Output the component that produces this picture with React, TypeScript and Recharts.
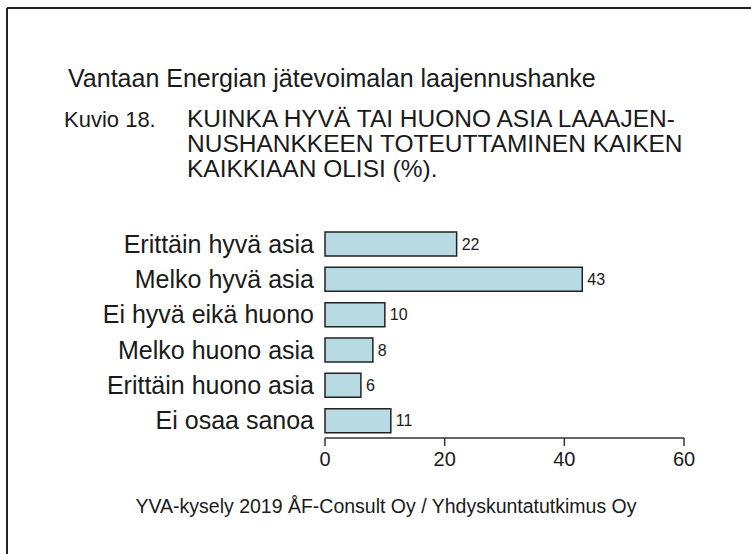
import React from 'react';
import { BarChart, Bar, XAxis, YAxis, LabelList } from 'recharts';

const categories = [
  'Erittäin hyvä asia',
  'Melko hyvä asia',
  'Ei hyvä eikä huono',
  'Melko huono asia',
  'Erittäin huono asia',
  'Ei osaa sanoa',
];
const values = [22, 43, 10, 8, 6, 11];
const xTicks = [0, 20, 40, 60];

const titleText = 'Vantaan Energian jätevoimalan laajennushanke';
const figureLabel = 'Kuvio 18.';
const subtitleLines = [
  'KUINKA HYVÄ TAI HUONO ASIA LAAAJEN-',
  'NUSHANKKEEN TOTEUTTAMINEN KAIKEN',
  'KAIKKIAAN OLISI (%).',
];
const footerText = 'YVA-kysely 2019 ÅF-Consult Oy / Yhdyskuntatutkimus Oy';

const data = categories.map((name, i) => ({ name, value: values[i] }));

const FONT = '"Liberation Sans", Arial, Helvetica, sans-serif';

export default function App() {
  return (
    <div style={{ position: 'absolute', left: 0, top: 0, width: 751, height: 554, background: '#fff', fontFamily: FONT }}>
      <svg width={751} height={554} style={{ position: 'absolute', left: 0, top: 0 }}>
        <line x1={7} y1={8} x2={751} y2={8} stroke="#222" strokeWidth={2} />
        <line x1={7} y1={8} x2={7} y2={554} stroke="#222" strokeWidth={2} />
        <text x={68} y={87} fontSize={25} fill="#1a1a1a" fontFamily={FONT}>{titleText}</text>
        <text x={64} y={127} fontSize={22} fill="#1a1a1a" fontFamily={FONT}>{figureLabel}</text>
        {subtitleLines.map((l, i) => (
          <text key={i} x={187} y={127 + i * 25} fontSize={24.5} fill="#1a1a1a" fontFamily={FONT}>{l}</text>
        ))}
        <text x={386} y={513} fontSize={19.5} fill="#1a1a1a" textAnchor="middle" fontFamily={FONT}>{footerText}</text>
      </svg>
      <div style={{ position: 'absolute', left: 0, top: 0 }}>
        <BarChart
          width={751}
          height={554}
          data={data}
          layout="vertical"
          margin={{ top: 226, right: 67, bottom: 76, left: 0 }}
        >
          <XAxis
            type="number"
            domain={[0, 60]}
            ticks={xTicks}
            height={40}
            axisLine={{ stroke: '#333', strokeWidth: 1.5 }}
            tickLine={{ stroke: '#333', strokeWidth: 1.5 }}
            tickSize={8}
            tickMargin={6}
            tick={{ fontSize: 20, fill: '#1a1a1a', fontFamily: FONT }}
          />
          <YAxis
            type="category"
            dataKey="name"
            width={325}
            axisLine={false}
            tickLine={false}
            tickSize={0}
            tickMargin={11}
            interval={0}
            tick={{ fontSize: 25, fill: '#1a1a1a', fontFamily: FONT }}
          />
          <Bar dataKey="value" fill="#b8dbe3" stroke="#222" strokeWidth={1.5} barSize={24} isAnimationActive={false}>
            <LabelList dataKey="value" position="right" offset={5} style={{ fontSize: 16, fill: '#1a1a1a', fontFamily: FONT }} />
          </Bar>
        </BarChart>
      </div>
    </div>
  );
}
